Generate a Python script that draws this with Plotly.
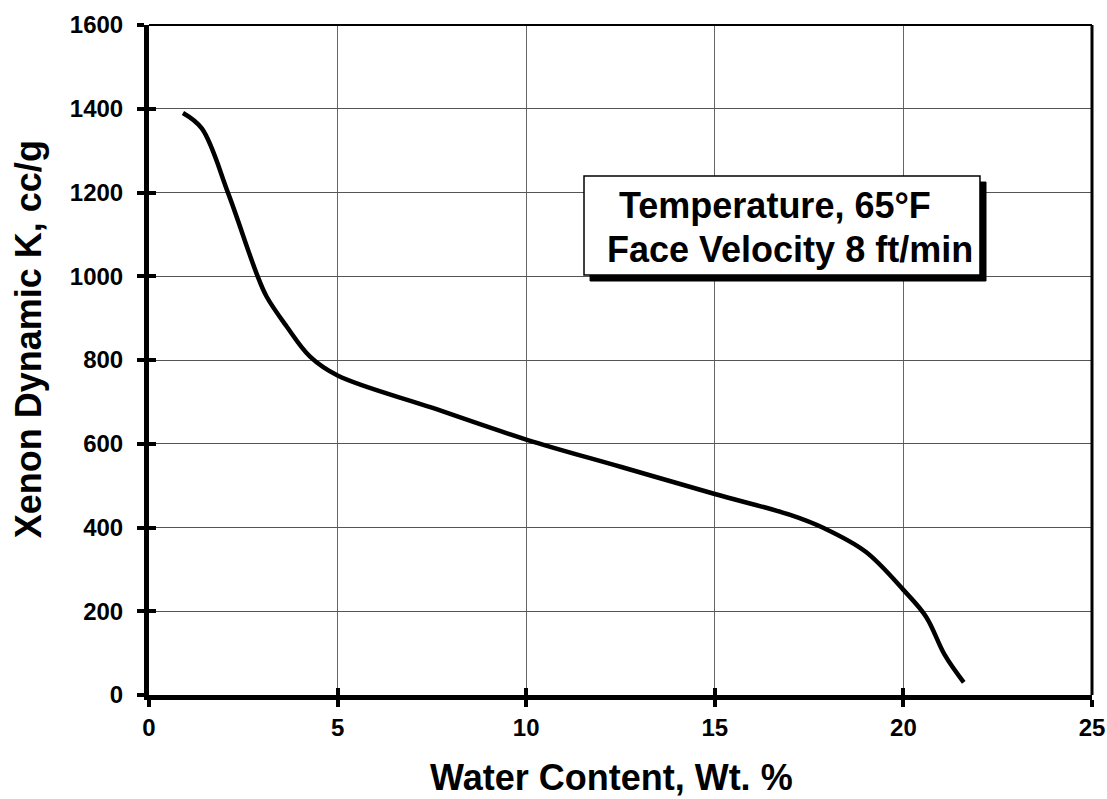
import plotly.graph_objects as go

# Data
water_content = [0.9, 1.4, 2.1, 2.85, 3.12, 3.65, 4.27, 5.0, 7.5, 10.0, 12.5, 15.0, 17.0, 17.9, 19.0, 20.0, 20.6, 21.1, 21.6]
xenon_k = [1390, 1353, 1198, 1007, 951, 880, 808, 763, 686, 610, 545, 480, 430, 398, 342, 251, 187, 95, 30]

x_ticks = [0, 5, 10, 15, 20, 25]
y_ticks = [0, 200, 400, 600, 800, 1000, 1200, 1400, 1600]

x_title = "Water Content, Wt. %"
y_title = "Xenon Dynamic K, cc/g"
note_line1 = "Temperature, 65°F"
note_line2 = "Face Velocity 8 ft/min"

FONT = "Liberation Sans, Arial, sans-serif"

fig = go.Figure()
fig.add_trace(go.Scatter(
    x=water_content, y=xenon_k, mode="lines",
    line=dict(color="black", width=4.5, shape="spline", smoothing=1.0),
    hoverinfo="skip", showlegend=False,
))
# helper trace for the overlay axes that draw the inner half of the tick marks
fig.add_trace(go.Scatter(
    x=water_content, y=xenon_k, mode="lines", xaxis="x2", yaxis="y2",
    line=dict(color="rgba(0,0,0,0)", width=0), hoverinfo="skip", showlegend=False,
))

tickfont = dict(family=FONT, size=24, color="black", weight="bold")

# box of the note (paper coordinates) and its drop shadow offset
bx0, bx1, by0, by1 = 0.4613, 0.8812, 0.6269, 0.7746
sdx, sdy = 0.0064, 0.0090

fig.update_layout(
    template="none",
    width=1107, height=799,
    margin=dict(l=149, r=15, t=25, b=104, autoexpand=False),
    paper_bgcolor="white", plot_bgcolor="white",
    xaxis=dict(
        range=[0, 25], tickvals=x_ticks, ticktext=[str(v) for v in x_ticks],
        showgrid=True, gridcolor="#666666", gridwidth=1,
        showline=True, linecolor="black", linewidth=5,
        ticks="outside", ticklen=7, tickwidth=4, tickcolor="black",
        tickfont=tickfont, zeroline=False, fixedrange=True, automargin=False,
    ),
    yaxis=dict(
        range=[0, 1600], tickvals=y_ticks, ticktext=[str(v) for v in y_ticks],
        showgrid=True, gridcolor="#555555", gridwidth=1,
        showline=True, linecolor="black", linewidth=5,
        ticks="outside", ticklen=7, tickwidth=4, tickcolor="black",
        tickfont=tickfont, zeroline=False, fixedrange=True, ticklabelstandoff=9,
        automargin=False,
    ),
    xaxis2=dict(
        range=[0, 25], tickvals=x_ticks, overlaying="x", anchor="y", side="bottom",
        showgrid=False, showline=False, showticklabels=False, zeroline=False,
        ticks="inside", ticklen=7, tickwidth=4, tickcolor="black", fixedrange=True,
        automargin=False,
    ),
    yaxis2=dict(
        range=[0, 1600], tickvals=y_ticks, overlaying="y", anchor="x", side="left",
        showgrid=False, showline=False, showticklabels=False, zeroline=False,
        ticks="inside", ticklen=7, tickwidth=4, tickcolor="black", fixedrange=True,
        automargin=False,
    ),
    shapes=[
        dict(type="line", xref="paper", yref="paper", x0=0, x1=1, y0=1, y1=1,
             line=dict(color="black", width=2)),
        dict(type="line", xref="paper", yref="paper", x0=1, x1=1, y0=0, y1=1,
             line=dict(color="black", width=3)),
        # shadow of the note box
        dict(type="rect", xref="paper", yref="paper",
             x0=bx0 + sdx, x1=bx1 + sdx, y0=by0 - sdy, y1=by1 - sdy,
             fillcolor="black", line=dict(color="black", width=1)),
        # note box
        dict(type="rect", xref="paper", yref="paper",
             x0=bx0, x1=bx1, y0=by0, y1=by1,
             fillcolor="white", line=dict(color="black", width=1.5)),
    ],
    annotations=[
        dict(xref="paper", yref="paper", x=0.6638, y=0.7313, text=note_line1, showarrow=False,
             font=dict(family=FONT, size=36, color="black", weight="bold"),
             xanchor="center", yanchor="middle"),
        dict(xref="paper", yref="paper", x=0.6797, y=0.6642, text=note_line2, showarrow=False,
             font=dict(family=FONT, size=36, color="black", weight="bold"),
             xanchor="center", yanchor="middle"),
        # axis titles
        dict(xref="paper", yref="paper", x=0.490, y=-0.1552, text=x_title, showarrow=False,
             font=dict(family=FONT, size=36, color="black", weight="bold"),
             xanchor="center", yanchor="bottom", borderpad=0),
        dict(xref="paper", yref="paper", x=-0.1283, y=0.531, text=y_title, showarrow=False,
             textangle=-90,
             font=dict(family=FONT, size=36, color="black", weight="bold"),
             xanchor="center", yanchor="middle"),
    ],
)

fig.write_html(
    "out.html",
    config={"displayModeBar": False},
    post_script="document.body.style.margin='0';document.body.style.overflow='hidden';",
)
